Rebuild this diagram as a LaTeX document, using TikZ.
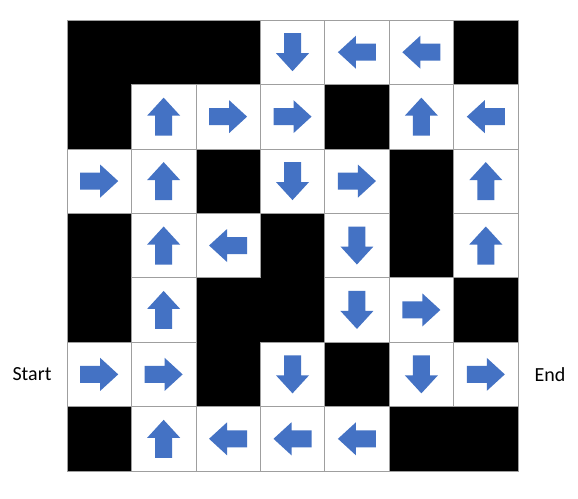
\documentclass[tikz,border=0pt]{standalone}
\usepackage{fontspec}
\setmainfont{Carlito}
\definecolor{arrowblue}{HTML}{4472C4}
\begin{document}
\begin{tikzpicture}[x=1pt,y=-1pt,
  cell/.style={line width=0.6pt, minimum size=64.43pt, inner sep=0pt, outer sep=0pt, anchor=center},
  wall/.style={cell, draw=black, fill=black},
  open/.style={cell, draw=gray!75, fill=white},
  lbl/.style={font=\fontsize{20}{24}\selectfont, text=black, inner sep=0pt},
  pics/arr/.style={code={
    \fill[arrowblue, rotate=#1] (-19,-8.5) -- (1,-8.5) -- (1,-16.5) -- (19,0) -- (1,16.5) -- (1,8.5) -- (-19,8.5) -- cycle;
  }}
]
\path[use as bounding box] (0,0) rectangle (578,498);
\def\maze{
  0/{B,B,B,D,L,L,B},
  1/{B,U,R,R,B,U,L},
  2/{R,U,B,D,R,B,U},
  3/{B,U,L,B,D,B,U},
  4/{B,U,B,B,D,R,B},
  5/{R,R,B,D,B,D,R},
  6/{B,U,L,L,L,B,B}}
% pass 1: walls
\foreach \row/\codes in \maze {
  \foreach \t [count=\c from 0] in \codes {
    \pgfmathsetmacro{\cx}{67+64.43*(\c+0.5)}
    \pgfmathsetmacro{\cy}{20+64.43*(\row+0.5)}
    \if B\t
      \node[wall] (c-\row-\c) at (\cx,\cy) {};
    \fi
  }
}
% pass 2: open cells with arrows
\foreach \row/\codes in \maze {
  \foreach \t [count=\c from 0] in \codes {
    \pgfmathsetmacro{\cx}{67+64.43*(\c+0.5)}
    \pgfmathsetmacro{\cy}{20+64.43*(\row+0.5)}
    \if B\t\else
      \node[open] (c-\row-\c) at (\cx,\cy) {};
      \if R\t \pic at (c-\row-\c) {arr=0}; \fi
      \if L\t \pic at (c-\row-\c) {arr=180}; \fi
      \if U\t \pic at (c-\row-\c) {arr=90}; \fi
      \if D\t \pic at (c-\row-\c) {arr=-90}; \fi
    \fi
  }
}
\draw[gray!75, line width=0.6pt] (67,20) rectangle (518,471);
\node[lbl] (start) at (32,374.4) {Start};
\node[lbl] (end) at (550,374.4) {End};
\end{tikzpicture}
\end{document}
